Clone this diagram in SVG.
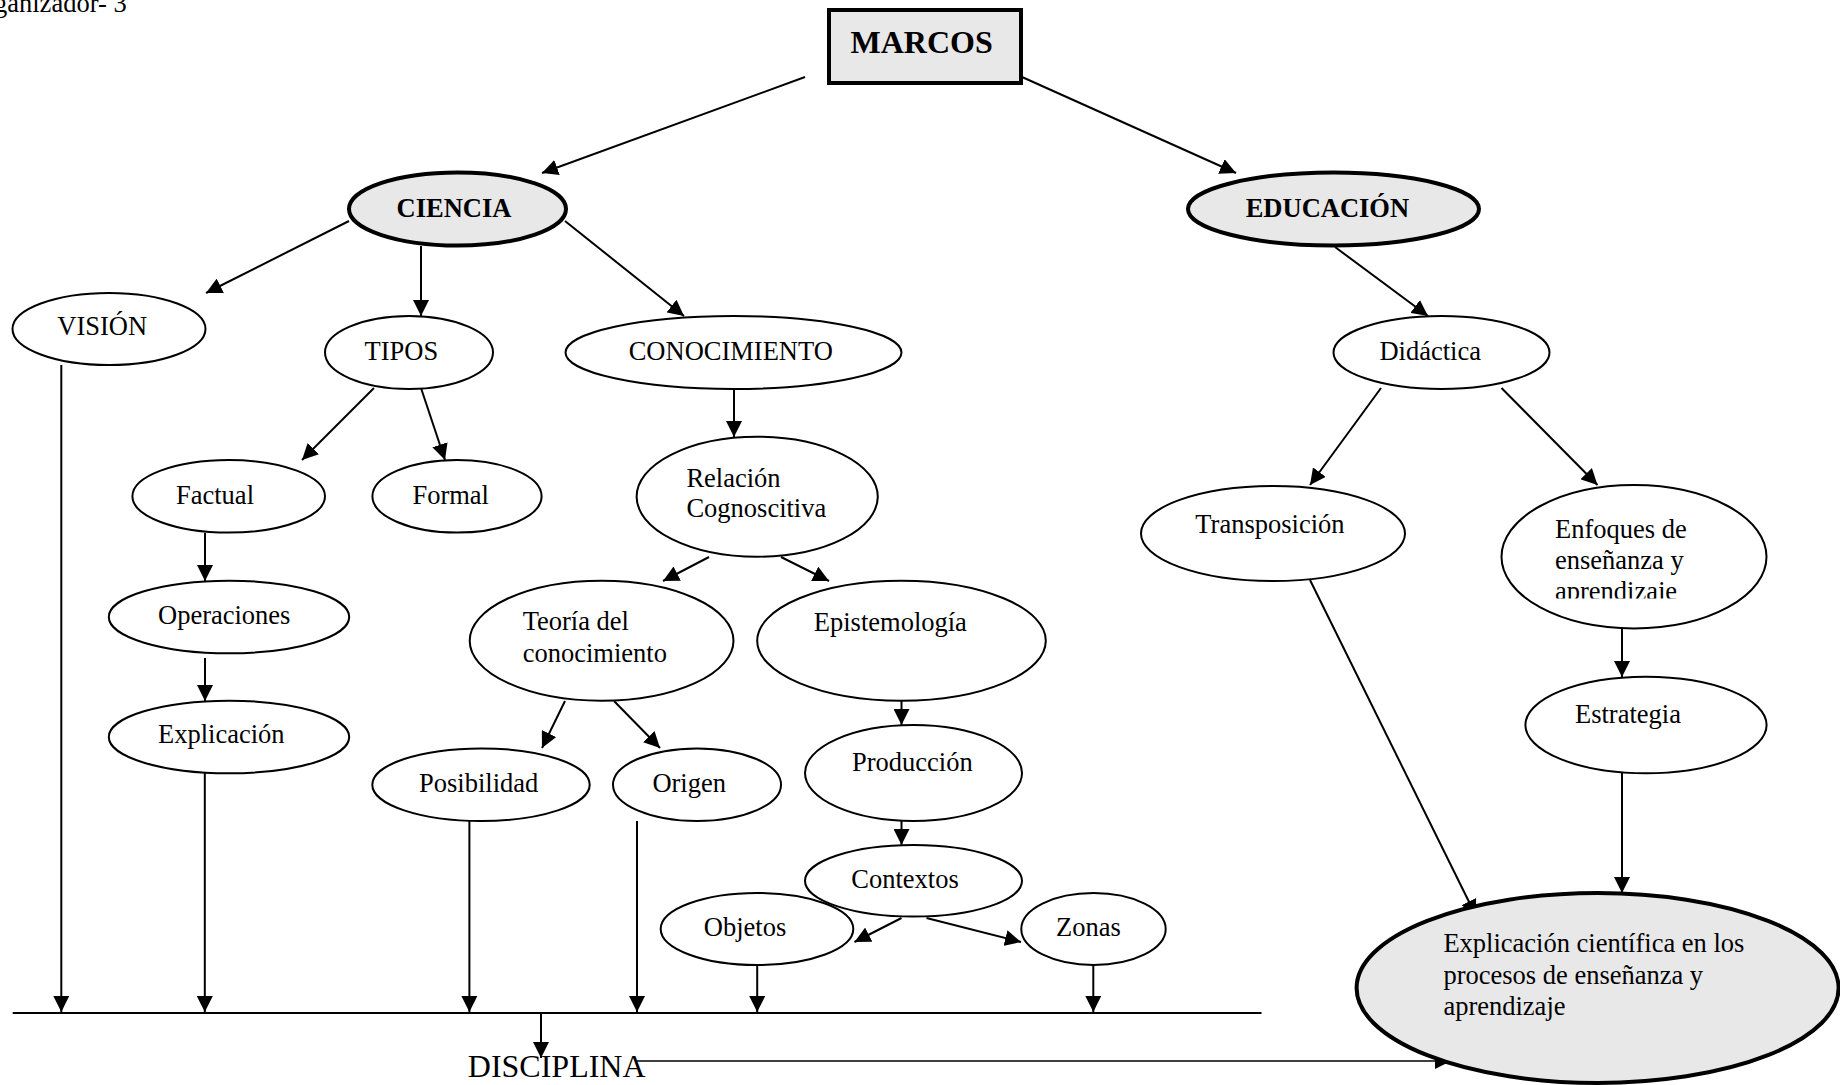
<svg xmlns="http://www.w3.org/2000/svg" width="1840" height="1085" viewBox="0 0 1840 1085">
<defs>
<marker id="ah" markerUnits="userSpaceOnUse" markerWidth="16" markerHeight="16" refX="16" refY="8" orient="auto">
<path d="M0,0 L16,8 L0,16 Z" fill="#000"/>
</marker>
<clipPath id="clipEnf"><rect x="1500" y="480" width="280" height="118.5"/></clipPath>
<style>
.n{fill:#fff;stroke:#000;stroke-width:2}
.o{fill:none;stroke:#000;stroke-width:2}
.h{fill:#e8e8e8;stroke:#000;stroke-width:4}
.t{font-family:"Liberation Serif","Times New Roman",serif;font-size:26.5px;fill:#000}
.b{font-weight:bold}
.c{stroke:#000;stroke-width:2;fill:none;marker-end:url(#ah)}
.l{stroke:#000;stroke-width:2;fill:none}
</style>
</defs>
<rect width="1840" height="1085" fill="#fff"/>
<text class="t" x="-6" y="12">ganizador- 3</text>

<g id="connectors">
<line class="c" x1="805" y1="77" x2="542" y2="173"/>
<line class="c" x1="1022" y1="77" x2="1236" y2="173"/>
<line class="c" x1="349" y1="221" x2="206" y2="293"/>
<line class="c" x1="421" y1="246" x2="421" y2="316"/>
<line class="c" x1="565" y1="221" x2="684" y2="316"/>
<line class="c" x1="1335" y1="247" x2="1428" y2="316"/>
<line class="c" x1="374" y1="388" x2="302" y2="460"/>
<line class="c" x1="421" y1="388" x2="445" y2="460"/>
<line class="c" x1="734" y1="388" x2="734" y2="437"/>
<line class="c" x1="205" y1="533" x2="205" y2="581"/>
<line class="c" x1="205" y1="658" x2="205" y2="701"/>
<line class="c" x1="709" y1="557" x2="663" y2="581"/>
<line class="c" x1="781" y1="557" x2="829" y2="581"/>
<line class="c" x1="565" y1="701" x2="542" y2="748"/>
<line class="c" x1="614" y1="701" x2="660" y2="748"/>
<line class="c" x1="901.5" y1="701" x2="901.5" y2="725"/>
<line class="c" x1="901.5" y1="821" x2="901.5" y2="845"/>
<line class="c" x1="901.5" y1="918" x2="854.5" y2="942"/>
<line class="c" x1="926.5" y1="918" x2="1021" y2="942"/>
<line class="c" x1="1381" y1="388" x2="1310" y2="485"/>
<line class="c" x1="1501.5" y1="388" x2="1597.5" y2="485"/>
<line class="c" x1="1622" y1="628" x2="1622" y2="677"/>
<line class="c" x1="1310" y1="580" x2="1476" y2="916"/>
<line class="c" x1="1622" y1="773" x2="1622" y2="893"/>
<line class="l" x1="12.7" y1="1013" x2="1261.5" y2="1013"/>
<line class="c" x1="61.3" y1="365" x2="61.3" y2="1012"/>
<line class="c" x1="204.8" y1="773" x2="204.8" y2="1012"/>
<line class="c" x1="469.4" y1="821" x2="469.4" y2="1012"/>
<line class="c" x1="637" y1="821" x2="637" y2="1012"/>
<line class="c" x1="757.2" y1="965" x2="757.2" y2="1012"/>
<line class="c" x1="1093.3" y1="965" x2="1093.3" y2="1012"/>
<line class="c" x1="541" y1="1013" x2="541" y2="1058"/>
<line class="c" x1="637" y1="1061" x2="1451" y2="1061" style="stroke-width:1.6"/>
</g>

<g id="marcos"><rect class="h" x="829" y="10" width="192" height="73"/><text class="t b" x="850.5" y="53" style="font-size:32px">MARCOS</text></g>
<g id="ciencia"><ellipse class="h" cx="457.5" cy="209" rx="108.5" ry="36.5"/><text class="t b" x="396.6" y="217.3">CIENCIA</text></g>
<g id="educacion"><ellipse class="h" cx="1333.5" cy="209" rx="145.5" ry="36.5"/><text class="t b" x="1245.7" y="217.3">EDUCACIÓN</text></g>
<g id="vision"><ellipse class="n" cx="109" cy="329" rx="96.5" ry="36"/><text class="t" x="57.3" y="335">VISIÓN</text></g>
<g id="tipos"><ellipse class="n" cx="409" cy="352.5" rx="84" ry="36.5"/><text class="t" x="364.6" y="360">TIPOS</text></g>
<g id="conocimiento"><ellipse class="n" cx="733.5" cy="352.5" rx="168" ry="36.5"/><text class="t" x="628.7" y="360">CONOCIMIENTO</text></g>
<g id="didactica"><ellipse class="n" cx="1441.5" cy="352.5" rx="108" ry="36.5"/><text class="t" x="1379.4" y="360">Didáctica</text></g>
<g id="factual"><ellipse class="n" cx="228.7" cy="496.3" rx="96.3" ry="36.3"/><text class="t" x="176" y="504">Factual</text></g>
<g id="formal"><ellipse class="n" cx="457" cy="496.3" rx="84.6" ry="36.3"/><text class="t" x="412.4" y="504">Formal</text></g>
<g id="relacion"><ellipse class="n" cx="757.2" cy="496.7" rx="120.6" ry="60"/><text class="t" x="686.4" y="486.7">Relación</text><text class="t" x="686.4" y="517.3">Cognoscitiva</text></g>
<g id="transposicion"><ellipse class="n" cx="1273" cy="533.5" rx="132" ry="47.5"/><text class="t" x="1195.3" y="532.7">Transposición</text></g>
<g id="enfoques"><ellipse class="n" cx="1634" cy="556.7" rx="132.5" ry="71.7"/><text class="t" x="1555" y="538.3">Enfoques de</text><text class="t" x="1555" y="569.3">enseñanza y</text><text class="t" x="1555" y="600" clip-path="url(#clipEnf)">aprendizaje</text></g>
<g id="operaciones"><ellipse class="n" cx="229" cy="617" rx="120.2" ry="36.3"/><text class="t" x="158" y="624.3">Operaciones</text></g>
<g id="teoria"><ellipse class="n" cx="601.6" cy="640.7" rx="131.9" ry="60"/><text class="t" x="522.7" y="630">Teoría del</text><text class="t" x="522.7" y="661.7">conocimiento</text></g>
<g id="epistemologia"><ellipse class="n" cx="901.5" cy="640.7" rx="144.3" ry="60"/><text class="t" x="813.8" y="630.7">Epistemología</text></g>
<g id="estrategia"><ellipse class="n" cx="1646" cy="725" rx="120.6" ry="48.3"/><text class="t" x="1575" y="723.3">Estrategia</text></g>
<g id="explicacion"><ellipse class="n" cx="229" cy="737" rx="120.2" ry="36.3"/><text class="t" x="158" y="743.3">Explicación</text></g>
<g id="produccion"><ellipse class="n" cx="913.5" cy="773" rx="108.5" ry="48"/><text class="t" x="852" y="771">Producción</text></g>
<g id="posibilidad"><ellipse class="n" cx="481" cy="784.7" rx="108.7" ry="36.3"/><text class="t" x="419" y="791.7">Posibilidad</text></g>
<g id="origen"><ellipse class="n" cx="697" cy="784.7" rx="84" ry="36.3"/><text class="t" x="652.4" y="791.7">Origen</text></g>
<g id="contextos"><ellipse class="o" cx="913.5" cy="880.8" rx="108.5" ry="35.8"/><text class="t" x="851.3" y="888.3">Contextos</text></g>
<g id="objetos"><ellipse class="o" cx="757" cy="929" rx="96.3" ry="36"/><text class="t" x="703.8" y="935.7">Objetos</text></g>
<g id="zonas"><ellipse class="o" cx="1093.5" cy="929" rx="72.2" ry="36"/><text class="t" x="1056" y="935.7">Zonas</text></g>
<g id="explicacion-cientifica"><ellipse class="h" cx="1597.6" cy="988" rx="241" ry="95"/><text class="t" x="1443.4" y="952">Explicación científica en los</text><text class="t" x="1443.4" y="984">procesos de enseñanza y</text><text class="t" x="1443.4" y="1015">aprendizaje</text></g>
<g id="disciplina"><text class="t" x="467.8" y="1077" style="font-size:32px">DISCIPLINA</text></g>
</svg>
